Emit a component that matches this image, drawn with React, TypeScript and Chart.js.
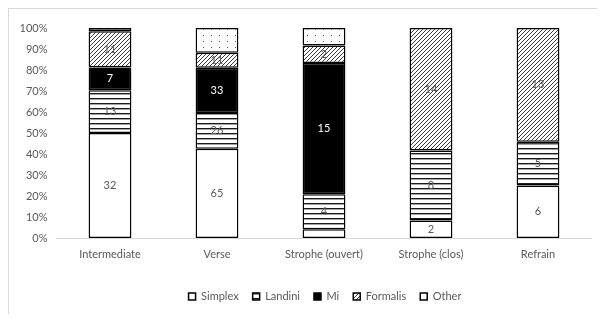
import { useEffect, useRef } from "react";
import { Chart, registerables } from "chart.js";

Chart.register(...registerables);

// Counts of cadence types per formal section
const categories = ["Intermediate", "Verse", "Strophe (ouvert)", "Strophe (clos)", "Refrain"];
const seriesNames = ["Simplex", "Landini", "Mi", "Formalis", "Other"];
const simplex = [32, 65, 1, 2, 6];
const landini = [13, 26, 4, 8, 5];
const mi = [7, 33, 15, 0, 0];
const formalis = [11, 11, 2, 14, 13];
const other = [1, 18, 2, 0, 0];
const yTickValues = [0, 10, 20, 30, 40, 50, 60, 70, 80, 90, 100];

const FONT = "Lato, 'Open Sans', sans-serif";
const TEXT = "#595959";

function tile(w: number, h: number, draw: (c: CanvasRenderingContext2D) => void) {
  const cv = document.createElement("canvas");
  cv.width = w;
  cv.height = h;
  const c = cv.getContext("2d")!;
  c.fillStyle = "#ffffff";
  c.fillRect(0, 0, w, h);
  draw(c);
  return c.createPattern(cv, "repeat")!;
}

function makeFills() {
  const plain = "#ffffff";
  const stripes = tile(4, 5, (c) => {
    c.fillStyle = "#1a1a1a";
    c.fillRect(0, 0, 4, 1.4);
  });
  const solid = "#000000";
  const hatch = tile(4, 4, (c) => {
    c.strokeStyle = "#3a3a3a";
    c.lineWidth = 1;
    c.beginPath();
    c.moveTo(-1, 5);
    c.lineTo(5, -1);
    c.moveTo(-1, 1);
    c.lineTo(1, -1);
    c.moveTo(3, 5);
    c.lineTo(5, 3);
    c.stroke();
  });
  const dots = tile(16, 12, (c) => {
    c.fillStyle = "#555555";
    c.fillRect(3, 3, 1, 1);
    c.fillRect(11, 9, 1, 1);
    c.fillRect(11, 3, 1, 1);
    c.fillRect(3, 9, 1, 1);
  });
  return [plain, stripes, solid, hatch, dots];
}

const labelColors = [TEXT, TEXT, "#ffffff", TEXT, TEXT];
const labelled = [true, true, true, true, false];

const segmentLabels = {
  id: "segmentLabels",
  afterDatasetsDraw(chart: any) {
    const ctx = chart.ctx;
    ctx.save();
    ctx.font = `11px ${FONT}`;
    ctx.textAlign = "center";
    ctx.textBaseline = "middle";
    chart.data.datasets.forEach((ds: any, di: number) => {
      if (!labelled[di]) return;
      const meta = chart.getDatasetMeta(di);
      meta.data.forEach((el: any, i: number) => {
        const count = ds.counts[i];
        if (!count) return;
        const h = Math.abs(el.base - el.y);
        if (h < 12) return;
        ctx.fillStyle = labelColors[di];
        ctx.fillText(String(count), el.x, (el.y + el.base) / 2);
      });
    });
    ctx.restore();
  },
};

export default function App() {
  const ref = useRef<HTMLCanvasElement | null>(null);

  useEffect(() => {
    const series = [simplex, landini, mi, formalis, other];
    const totals = categories.map((_, i) => series.reduce((s, arr) => s + arr[i], 0));
    const fills = makeFills();

    const chart = new Chart(ref.current!, {
      type: "bar",
      data: {
        labels: categories,
        datasets: series.map((arr, k) => ({
          label: seriesNames[k],
          counts: arr,
          data: arr.map((v, i) => (v ? (v / totals[i]) * 100 : null)),
          backgroundColor: fills[k],
          borderColor: "#000000",
          borderWidth: 1.5,
          borderSkipped: false,
          categoryPercentage: 1,
          barPercentage: 0.4,
        })) as any,
      },
      options: {
        animation: false,
        responsive: true,
        maintainAspectRatio: false,
        layout: { padding: { top: 20, right: 0, left: 0, bottom: 2 } },
        scales: {
          x: {
            stacked: true,
            grid: { display: false, drawTicks: false },
            border: { display: true, color: "#d9d9d9", width: 1 },
            ticks: { color: TEXT, font: { family: FONT, size: 11 }, padding: 10 },
            afterFit: (s: any) => {
              s.height = 39;
            },
          },
          y: {
            stacked: true,
            min: 0,
            max: 100,
            afterBuildTicks: (s: any) => {
              s.ticks = yTickValues.map((v) => ({ value: v }));
            },
            grid: { display: false, drawTicks: false },
            border: { display: false },
            ticks: {
              color: TEXT,
              font: { family: FONT, size: 11 },
              padding: 9,
              callback: (v: any) => `${v}%`,
            },
            afterFit: (s: any) => {
              s.width = 48.5;
            },
          },
          // empty spacer on the right so the legend stays centred on the full width
          spacer: {
            type: "linear",
            position: "right",
            min: 0,
            max: 100,
            grid: { display: false, drawTicks: false },
            border: { display: false },
            ticks: { display: false },
            afterFit: (s: any) => {
              s.width = 50.5;
            },
          },
        },
        plugins: {
          legend: {
            position: "bottom",
            labels: {
              boxWidth: 7,
              boxHeight: 7,
              padding: 14,
              color: TEXT,
              font: { family: FONT, size: 11 },
            },
          },
          tooltip: { enabled: false },
        },
      },
      plugins: [segmentLabels],
    });
    return () => chart.destroy();
  }, []);

  return (
    <div style={{ position: "relative", width: 589, height: 306, overflow: "hidden" }}>
      <div style={{ position: "relative", width: 634, height: 306 }}>
        <canvas ref={ref} />
      </div>
      <div
        style={{
          position: "absolute",
          inset: 0,
          borderTop: "1px solid #d9d9d9",
          borderLeft: "1px solid #d9d9d9",
          pointerEvents: "none",
        }}
      />
    </div>
  );
}
